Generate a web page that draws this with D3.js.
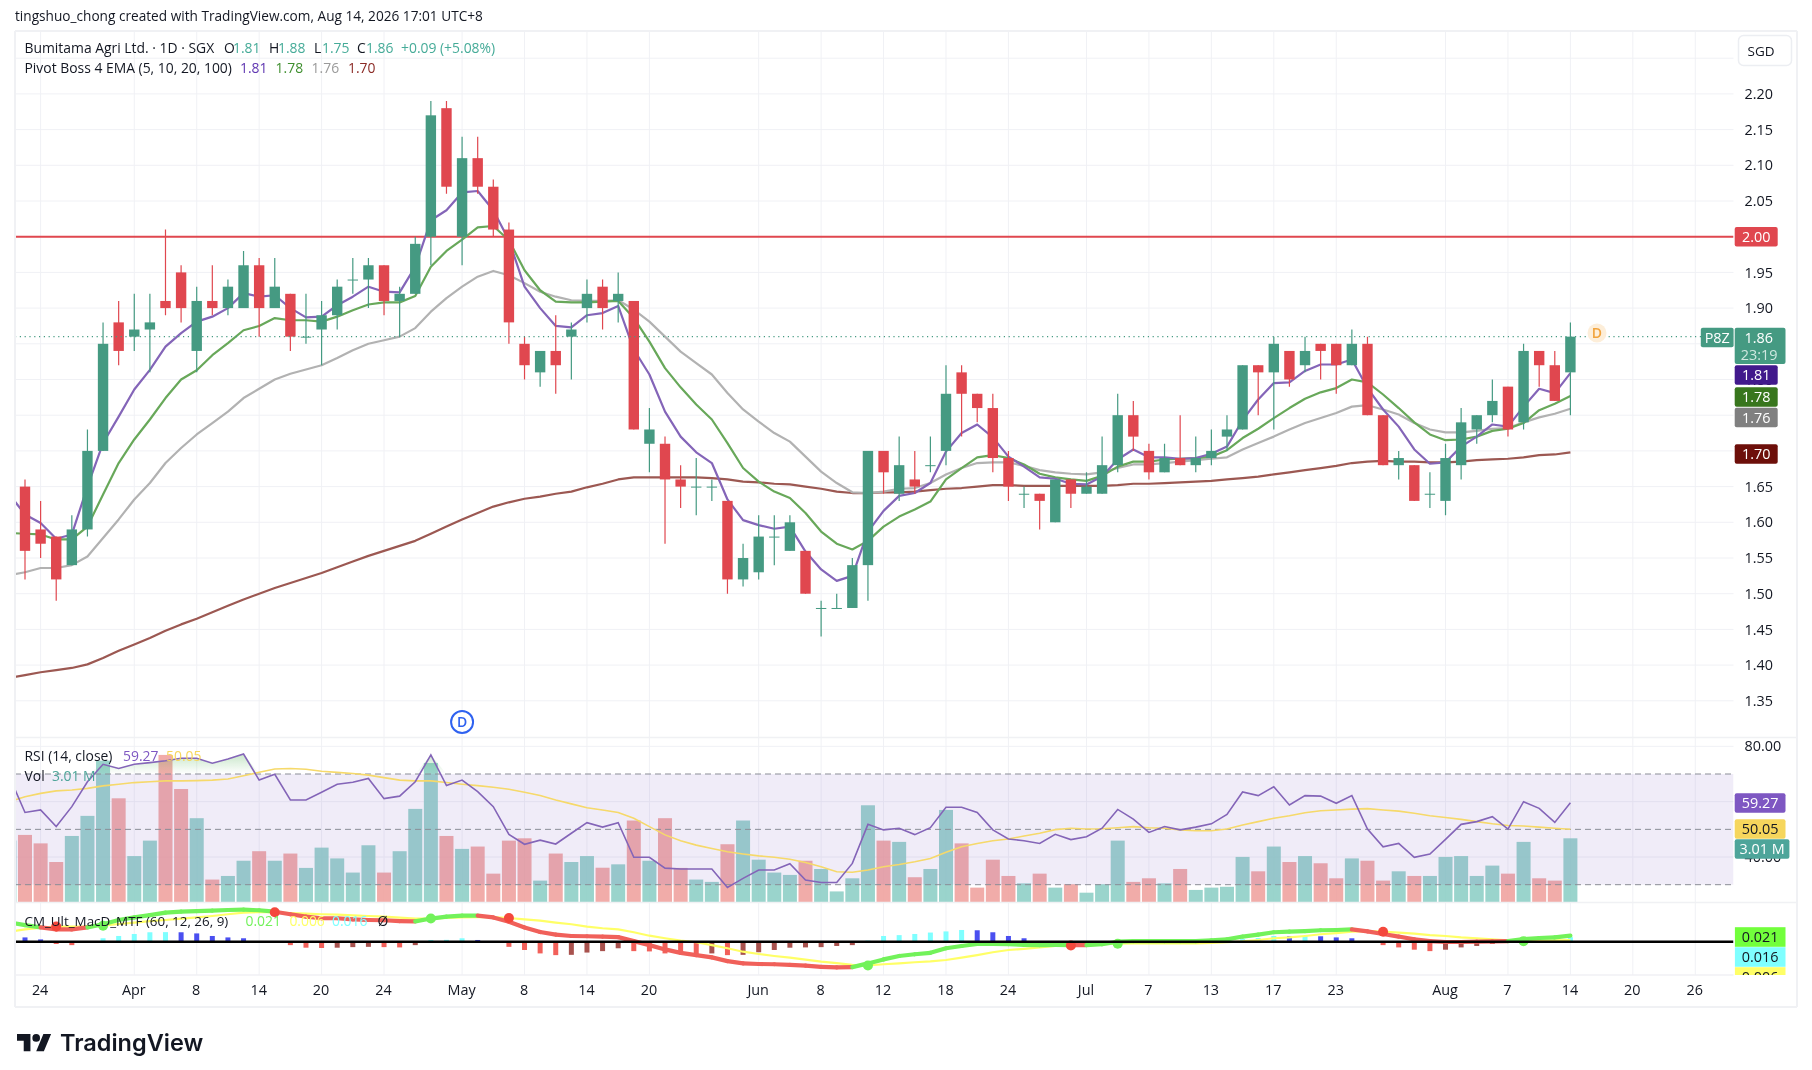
<!DOCTYPE html>
<html><head><meta charset="utf-8">
<script src="https://cdn.jsdelivr.net/npm/d3@7/dist/d3.min.js"></script>
<style>
html,body{margin:0;padding:0;background:#fff}
svg{display:block;filter:blur(.45px)}
text{font-family:"Open Sans","Noto Sans",sans-serif;fill:#131722}
</style></head><body><div id="chart"></div>
<script>
const opens=[1.62,
1.65,1.59,1.58,1.54,1.59,1.70,1.88,1.86,1.87,1.91,
1.95,1.84,1.91,1.90,1.90,1.96,1.90,1.92,1.86,1.87,
1.89,1.94,1.94,1.96,1.91,1.92,2.00,2.18,2.00,2.11,
2.07,2.01,1.85,1.81,1.84,1.86,1.90,1.93,1.91,1.91,
1.71,1.71,1.66,1.65,1.65,1.63,1.52,1.53,1.58,1.56,
1.56,1.48,1.48,1.48,1.54,1.70,1.64,1.66,1.68,1.70,
1.81,1.78,1.76,1.69,1.64,1.64,1.60,1.66,1.64,1.64,
1.68,1.75,1.70,1.67,1.69,1.68,1.69,1.72,1.73,1.82,
1.81,1.84,1.82,1.85,1.85,1.82,1.85,1.75,1.68,1.68,
1.64,1.63,1.68,1.73,1.75,1.79,1.74,1.84,1.82,1.81];
const closes=[1.63,
1.56,1.57,1.52,1.59,1.70,1.85,1.84,1.87,1.88,1.90,
1.90,1.91,1.90,1.93,1.96,1.90,1.93,1.86,1.86,1.89,
1.93,1.94,1.96,1.91,1.92,1.99,2.17,2.07,2.11,2.07,
2.01,1.88,1.82,1.84,1.82,1.87,1.92,1.90,1.92,1.73,
1.73,1.66,1.65,1.65,1.65,1.52,1.55,1.58,1.58,1.60,
1.50,1.48,1.48,1.54,1.70,1.67,1.68,1.65,1.68,1.78,
1.78,1.76,1.69,1.65,1.64,1.63,1.66,1.64,1.65,1.68,
1.75,1.72,1.67,1.69,1.68,1.69,1.70,1.73,1.82,1.81,
1.85,1.80,1.84,1.84,1.82,1.85,1.75,1.68,1.69,1.63,
1.64,1.69,1.74,1.75,1.77,1.73,1.84,1.82,1.77,1.86];
const highs=[1.64,
1.66,1.63,1.58,1.61,1.73,1.88,1.91,1.92,1.92,2.01,
1.96,1.93,1.96,1.94,1.98,1.97,1.97,1.92,1.92,1.91,
1.94,1.97,1.97,1.96,1.93,2.00,2.19,2.19,2.14,2.14,
2.08,2.02,1.86,1.84,1.89,1.88,1.94,1.94,1.95,1.91,
1.76,1.72,1.68,1.69,1.66,1.63,1.57,1.61,1.61,1.61,
1.56,1.49,1.50,1.55,1.70,1.70,1.72,1.70,1.72,1.82,
1.82,1.78,1.78,1.70,1.65,1.64,1.66,1.66,1.67,1.72,
1.78,1.77,1.71,1.71,1.75,1.72,1.73,1.75,1.82,1.82,
1.86,1.84,1.86,1.85,1.85,1.87,1.86,1.75,1.70,1.68,
1.67,1.71,1.76,1.75,1.80,1.79,1.85,1.84,1.84,1.88];
const lows=[1.60,
1.52,1.55,1.49,1.54,1.58,1.70,1.82,1.84,1.81,1.89,
1.88,1.81,1.89,1.89,1.90,1.86,1.90,1.84,1.85,1.82,
1.87,1.92,1.90,1.89,1.86,1.92,1.96,2.06,1.96,2.06,
2.00,1.85,1.80,1.79,1.78,1.80,1.88,1.87,1.88,1.73,
1.67,1.57,1.62,1.61,1.63,1.50,1.51,1.52,1.54,1.56,
1.50,1.44,1.48,1.48,1.49,1.64,1.63,1.64,1.67,1.68,
1.72,1.74,1.67,1.63,1.62,1.59,1.60,1.62,1.64,1.64,
1.67,1.70,1.66,1.67,1.68,1.67,1.68,1.70,1.73,1.75,
1.73,1.79,1.81,1.80,1.78,1.82,1.75,1.68,1.66,1.63,
1.62,1.61,1.66,1.71,1.74,1.72,1.73,1.79,1.77,1.75];
const ema5=[1.639,
1.611,1.599,1.577,1.583,1.650,1.711,1.748,1.786,1.8135,1.846,
1.865,1.881,1.888,1.900,1.921,1.916,1.918,1.900,1.887,1.888,
1.904,1.916,1.930,1.923,1.922,1.958,2.023,2.037,2.062,2.064,
2.037,1.995,1.930,1.900,1.875,1.873,1.890,1.893,1.903,1.842,
1.807,1.755,1.720,1.698,1.683,1.632,1.603,1.596,1.591,1.594,
1.559,1.534,1.518,1.525,1.587,1.616,1.637,1.641,1.655,1.699,
1.725,1.737,1.719,1.692,1.678,1.663,1.661,1.654,1.653,1.664,
1.688,1.702,1.691,1.691,1.689,1.690,1.696,1.706,1.743,1.772,
1.795,1.796,1.812,1.821,1.821,1.828,1.788,1.758,1.734,1.702,
1.682,1.684,1.706,1.720,1.737,1.734,1.762,1.787,1.781,1.809];
const ema10=[1.585,
1.584,1.583,1.576,1.576,1.594,1.639,1.683,1.716,1.744,1.774,
1.800,1.813,1.834,1.851,1.869,1.875,1.886,1.883,1.883,1.881,
1.888,1.897,1.905,1.908,1.908,1.917,1.958,1.980,1.996,2.013,
2.015,1.995,1.953,1.925,1.909,1.908,1.908,1.909,1.910,1.886,
1.853,1.816,1.789,1.765,1.744,1.711,1.676,1.657,1.643,1.634,
1.613,1.587,1.570,1.562,1.574,1.594,1.608,1.618,1.629,1.660,
1.676,1.691,1.694,1.690,1.681,1.668,1.663,1.660,1.658,1.665,
1.678,1.685,1.685,1.688,1.689,1.690,1.692,1.701,1.718,1.731,
1.746,1.760,1.773,1.782,1.788,1.800,1.796,1.779,1.760,1.740,
1.723,1.715,1.716,1.720,1.728,1.731,1.739,1.757,1.766,1.777];
const ema20=[1.526,
1.530,1.536,1.536,1.540,1.552,1.578,1.604,1.632,1.655,1.683,
1.704,1.723,1.739,1.755,1.774,1.787,1.800,1.808,1.814,1.820,
1.830,1.841,1.850,1.855,1.860,1.872,1.895,1.914,1.930,1.944,
1.952,1.946,1.935,1.923,1.916,1.911,1.910,1.910,1.911,1.898,
1.881,1.860,1.839,1.823,1.807,1.781,1.758,1.741,1.725,1.713,
1.692,1.671,1.655,1.642,1.641,1.643,1.647,1.648,1.655,1.667,
1.676,1.683,1.684,1.684,1.679,1.673,1.670,1.668,1.667,1.670,
1.676,1.681,1.681,1.683,1.685,1.687,1.689,1.691,1.702,1.711,
1.720,1.730,1.739,1.746,1.753,1.762,1.764,1.758,1.751,1.739,
1.730,1.726,1.726,1.728,1.731,1.732,1.740,1.747,1.752,1.759];
const ema100=[1.382,
1.386,1.390,1.393,1.396,1.401,1.410,1.420,1.429,1.438,1.448,
1.457,1.465,1.474,1.483,1.492,1.500,1.508,1.515,1.522,1.529,
1.537,1.545,1.553,1.560,1.567,1.574,1.584,1.594,1.604,1.613,
1.622,1.628,1.633,1.636,1.640,1.643,1.649,1.654,1.660,1.663,
1.663,1.663,1.663,1.663,1.662,1.660,1.657,1.656,1.654,1.653,
1.650,1.647,1.643,1.641,1.641,1.642,1.642,1.643,1.645,1.647,
1.648,1.650,1.652,1.652,1.651,1.651,1.651,1.651,1.651,1.651,
1.652,1.654,1.654,1.655,1.656,1.657,1.658,1.660,1.662,1.664,
1.667,1.670,1.673,1.676,1.679,1.683,1.685,1.686,1.685,1.685,
1.684,1.684,1.685,1.687,1.688,1.689,1.691,1.694,1.695,1.698];
const rsi=[69,
56.1,57,51,58.2,67.2,73.5,72,73.5,74.1,74.8,
75.7,75.7,73.9,75.4,77.2,67.8,69.9,60.6,60.6,63.4,
66.3,67,68.4,61.1,62,67.2,76.9,65.8,67.8,63.6,
58.2,48.2,44.6,46.1,44.7,48.6,52.4,50.8,52.4,39.9,
39.9,36,35.7,35.7,35.7,29,32.3,35.3,35.3,37.6,
31.7,30.8,30.8,37.7,51.8,49.8,50.4,48.1,50.6,58,
58,56.1,49.8,46.5,45.9,44.9,48.2,46.3,47.3,50.4,
57.2,53.7,48.9,51,49.8,50.8,52,55.4,63.5,62.2,
65.4,58.8,62.2,62,59.4,62.2,50.1,43.7,44.9,39.9,
41.1,46.4,51.8,52.8,54.6,50.1,60,57.6,52.5,59.6];
const rsiMA=[60,
61.8,63,63.9,64.2,64.8,65.7,66.3,66.9,67.2,67.5,
67.5,67.6,67.8,68.2,69.4,70.6,71.8,72,71.7,71,
70.6,70.2,69.6,68.7,67.8,67.5,67.5,66.9,66.3,65.8,
65.2,64.5,63.4,62.2,60.6,59.2,57.8,57,56.1,54,
51,48,45.9,44.3,43.1,41.9,41.1,40.4,39.9,39.2,
38,36.5,34.7,34.5,35.3,36.5,37.3,38.3,39.5,41.7,
43.7,44.9,45.9,46.5,47.6,48.6,49.9,50.4,50.1,50.2,
50.6,51,50.6,50.4,49.8,49.5,49.5,50.1,51.6,52.8,
54,54.9,56,56.7,57,57.3,57.5,57,56.6,55.8,
54.9,54.3,53.6,52.8,52,51.4,51.2,50.8,50.4,50.05];
const volumes=[2.9,
3.17,2.77,1.89,3.12,4.07,6.68,4.9,2.17,2.9,6.95,
5.34,3.96,1.06,1.23,1.95,2.4,1.95,2.29,1.61,2.57,
2.06,1.39,2.68,1.39,2.4,4.4,6.57,3.12,2.51,2.62,
1.34,2.9,3.01,1.01,2.29,1.89,2.17,1.62,1.78,3.85,
1.95,3.96,1.61,1.06,0.95,2.73,3.85,2.0,1.39,1.28,
1.95,1.56,0.5,1.12,4.57,2.9,2.84,1.17,1.56,4.35,
2.77,0.68,2.0,1.23,0.88,1.34,0.68,0.84,0.44,0.84,
2.9,0.95,1.12,0.88,1.56,0.57,0.68,0.72,2.13,1.45,
2.62,1.89,2.17,1.83,1.12,2.06,1.95,1.01,1.45,1.23,
1.23,2.13,2.17,1.23,1.72,1.34,2.84,1.12,1.01,3.01];
const macd=[.067,
.058,.050,.043,.043,.050,.061,.076,.085,.093,.102,
.105,.107,.109,.111,.112,.110,.105,.096,.088,.082,
.082,.078,.076,.075,.072,.071,.081,.088,.091,.091,
.085,.070,.050,.034,.025,.020,.019,.018,.016,.002,
-.012,-.027,-.039,-.047,-.055,-.068,-.076,-.078,-.079,-.081,
-.084,-.088,-.090,-.089,-.076,-.062,-.050,-.044,-.039,-.023,
-.015,-.008,-.008,-.009,-.011,-.012,-.011,-.012,-.012,-.009,
0,.002,.002,.002,.002,.002,.005,.008,.018,.025,
.033,.035,.037,.040,.041,.043,.036,.027,.018,.008,
.002,-.001,-.001,0,.001,.002,.009,.013,.015,.021];
const signal=[.035,
.043,.049,.053,.053,.053,.056,.062,.067,.072,.076,
.081,.085,.090,.096,.102,.104,.103,.100,.098,.096,
.095,.092,.090,.088,.084,.081,.081,.083,.085,.086,
.086,.083,.078,.074,.067,.061,.053,.047,.043,.033,
.021,.012,.004,-.002,-.012,-.023,-.035,-.043,-.050,-.056,
-.063,-.070,-.075,-.081,-.083,-.079,-.076,-.072,-.069,-.064,
-.056,-.047,-.037,-.029,-.025,-.020,-.015,-.013,-.011,-.009,
-.007,-.006,-.006,-.006,-.006,-.006,-.004,-.002,.001,.006,
.012,.015,.020,.026,.030,.035,.037,.035,.032,.028,
.023,.020,.015,.012,.008,.005,.002,.004,.005,.006];
const hist=[.020,
.015,.008,-.008,-.012,0,.012,.020,.027,.033,.0335,
.033,.029,.020,.015,.012,0,0,-.012,-.021,-.022,
-.021,-.019,-.018,-.019,-.020,-.012,.006,.0065,.012,.006,
0,-.018,-.029,-.041,-.047,-.046,-.038,-.033,-.023,-.033,
-.034,-.041,-.043,-.047,-.041,-.047,-.046,-.037,-.029,-.021,
-.020,-.019,-.015,-.012,.004,.020,.023,.027,.032,.036,
.041,.040,.033,.020,.012,0,0,0,0,0,
0,0,.006,.005,.004,0,0,0,.009,.013,
.020,.019,.020,.019,.015,.012,0,-.012,-.020,-.028,
-.033,-.028,-.020,-.015,-.008,0,0,.006,.0055,.016];
const crossDown=[3,17,32,68,88];
const crossUp=[6,27,55,71,97];
const priceTicks=[2.25,2.20,2.15,2.10,2.05,2.00,1.95,1.90,1.85,1.80,1.75,1.70,1.65,1.60,1.55,1.50,1.45,1.40,1.35];
const timeBars=[2,8,12,16,20,24,29,33,37,41,48,52,56,60,64,69,73,77,81,85,92,96,100,104,108];
const timeLabels=["24","Apr","8","14","20","24","May","8","14","20","Jun","8","12","18","24","Jul","7","13","17","23","Aug","7","14","20","26"];
const rsiLevels=[70,50,30];
const rsiGrid=[80,60,40];
const resistance=2.00, lastPrice=1.86;

const W=1812,H=1070, L=15,R=1733.5, T=31;
const mainBottom=737, rsiTop=741, rsiBottom=902, macdBottom=975, axisBottom=1007, outerR=1797;
const x=d3.scaleLinear().domain([1,100]).range([25,1570.4]);
const y=d3.scaleLinear().domain([2,1.45]).range([236.7,629.4]);
const yR=d3.scaleLinear().domain([70,30]).range([774,884.7]);
const yV=d3.scaleLinear().domain([0,3.01]).range([902,838.3]);
const yM=d3.scaleLinear().domain([0,.021]).range([941.7,935.7]);
const bars=d3.range(opens.length);
const up=i=>closes[i]>=opens[i];
const GREEN="#459a82",RED="#e0474f";

const svg=d3.select("#chart").append("svg").attr("width",W).attr("height",H);
const defs=svg.append("defs");
const clip=(id,y0,y1)=>defs.append("clipPath").attr("id",id).append("rect").attr("x",L).attr("y",y0).attr("width",R-L).attr("height",y1-y0);
clip("cMain",T,mainBottom);clip("cRsi",rsiTop,rsiBottom);clip("cMacd",rsiBottom,macdBottom);
const g1=defs.append("linearGradient").attr("id","ob").attr("x1",0).attr("x2",0).attr("y1",0).attr("y2",1);
g1.append("stop").attr("offset","0").attr("stop-color","#4caf50").attr("stop-opacity",.3);
g1.append("stop").attr("offset","1").attr("stop-color","#4caf50").attr("stop-opacity",0);

const grid="#f0f1f5";
// frame
const gGrid=svg.append("g");
gGrid.append("g").selectAll("line").data(timeBars).join("line")
 .attr("x1",d=>x(d)).attr("x2",d=>x(d)).attr("y1",T).attr("y2",macdBottom).attr("stroke",grid);
gGrid.append("g").selectAll("line").data(priceTicks).join("line")
 .attr("x1",L).attr("x2",R).attr("y1",d=>y(d)).attr("y2",d=>y(d)).attr("stroke",grid);
gGrid.append("g").selectAll("line").data(rsiGrid).join("line")
 .attr("x1",L).attr("x2",R).attr("y1",d=>yR(d)).attr("y2",d=>yR(d)).attr("stroke",grid);

// main pane
const pMain=svg.append("g").attr("clip-path","url(#cMain)");
pMain.append("line").attr("x1",L).attr("x2",R).attr("y1",y(resistance)).attr("y2",y(resistance)).attr("stroke",RED).attr("stroke-width",2);
const lineOf=(arr,sc)=>d3.line().x(i=>x(i)).y(i=>sc(arr[i]))(bars);
[[ema100,"#9c5852"],[ema20,"#b2b2b2"],[ema10,"#68a85a"],[ema5,"#8465b8"]].forEach(([a,c])=>{
 pMain.append("path").attr("d",lineOf(a,y)).attr("fill","none").attr("stroke",c).attr("stroke-width",2.2).attr("stroke-linejoin","round");
});
pMain.append("g").selectAll("line").data(bars).join("line")
 .attr("x1",i=>x(i)).attr("x2",i=>x(i)).attr("y1",i=>y(highs[i])).attr("y2",i=>y(lows[i]))
 .attr("stroke",i=>up(i)?GREEN:RED).attr("stroke-width",1.2);
pMain.append("g").selectAll("rect").data(bars).join("rect")
 .attr("x",i=>x(i)-5.2).attr("width",10.4)
 .attr("y",i=>y(Math.max(opens[i],closes[i])))
 .attr("height",i=>Math.max(1,Math.abs(y(opens[i])-y(closes[i]))))
 .attr("fill",i=>up(i)?GREEN:RED);
pMain.append("line").attr("x1",L).attr("x2",R).attr("y1",y(lastPrice)).attr("y2",y(lastPrice))
 .attr("stroke",GREEN).attr("stroke-width",1.2).attr("stroke-dasharray","1.2 3.6");

// dividend markers
pMain.append("circle").attr("cx",x(29)).attr("cy",722).attr("r",11).attr("fill","#fff").attr("stroke","#2f62f0").attr("stroke-width",2);
pMain.append("text").attr("x",x(29)).attr("y",727).attr("text-anchor","middle").style("fill","#2f62f0").style("font-size","14px").style("font-weight","600").text("D");
pMain.append("circle").attr("cx",1597).attr("cy",333).attr("r",9.5).attr("fill","#fdeed9");
pMain.append("text").attr("x",1597).attr("y",338).attr("text-anchor","middle").style("fill","#f2a33c").style("font-size","14px").style("font-weight","600").text("D");

// RSI pane
const pR=svg.append("g").attr("clip-path","url(#cRsi)");
pR.append("g").selectAll("rect").data(bars).join("rect")
 .attr("x",i=>x(i)-7).attr("width",14).attr("y",i=>yV(volumes[i])).attr("height",i=>902-yV(volumes[i]))
 .attr("fill",i=>up(i)?"#8fcfc6":"#efa3a0").attr("fill-opacity",.9);
pR.append("rect").attr("x",L).attr("width",R-L).attr("y",yR(70)).attr("height",yR(30)-yR(70)).attr("fill","#7e57c2").attr("fill-opacity",.115);
pR.append("path").attr("fill","url(#ob)")
 .attr("d",d3.area().x(i=>x(i)).y0(yR(70)).y1(i=>yR(Math.max(rsi[i],70)))(bars));
pR.append("g").selectAll("line").data(rsiLevels).join("line")
 .attr("x1",L).attr("x2",R).attr("y1",d=>yR(d)).attr("y2",d=>yR(d)).attr("stroke","#8a8d96").attr("stroke-width",1).attr("stroke-dasharray","6 4");
pR.append("path").attr("d",lineOf(rsiMA,yR)).attr("fill","none").attr("stroke","#f6d96a").attr("stroke-width",1.6);
pR.append("path").attr("d",lineOf(rsi,yR)).attr("fill","none").attr("stroke","#8465b8").attr("stroke-width",1.6);

// MACD pane
const pM=svg.append("g").attr("clip-path","url(#cMacd)");
const histColor=i=>{const v=hist[i],p=i?hist[i-1]:v;
 return v>=0?(v>p?"#7fffff":"#4a4ff0"):(v<p?"#f2605a":"#a8524e");};
pM.append("g").selectAll("rect").data(bars.filter(i=>hist[i]!==0)).join("rect")
 .attr("x",i=>x(i)-2.5).attr("width",5).attr("y",i=>Math.min(yM(hist[i]),yM(0))).attr("height",i=>Math.abs(yM(hist[i])-yM(0)))
 .attr("fill",histColor);
pM.append("path").attr("d",lineOf(signal,yM)).attr("fill","none").attr("stroke","#ffff66").attr("stroke-width",2.2);
pM.append("g").selectAll("line").data(bars.slice(0,-1)).join("line")
 .attr("x1",i=>x(i)).attr("x2",i=>x(i+1)).attr("y1",i=>yM(macd[i])).attr("y2",i=>yM(macd[i+1]))
 .attr("stroke",i=>macd[i+1]>=signal[i+1]?"#72f25a":"#f0605a").attr("stroke-width",4.2).attr("stroke-linecap","round");
pM.append("g").selectAll("circle").data(crossDown).join("circle").attr("cx",i=>x(i)).attr("cy",i=>yM(signal[i])).attr("r",5).attr("fill","#f4483c");
pM.append("g").selectAll("circle").data(crossUp).join("circle").attr("cx",i=>x(i)).attr("cy",i=>yM(signal[i])).attr("r",5).attr("fill","#72f25a");
pM.append("line").attr("x1",L).attr("x2",R).attr("y1",yM(0)).attr("y2",yM(0)).attr("stroke","#000").attr("stroke-width",2.5);

// borders
const border="#f0f1f4";
[[L,T,outerR,T],[L,T,L,axisBottom],[L,axisBottom,outerR,axisBottom],[outerR,T,outerR,axisBottom],[L,737.5,outerR,737.5],[L,902.5,outerR,902.5],[L,975,R,975]].forEach(([a,b,c,d],k)=>{
 svg.append("line").attr("x1",a).attr("y1",b).attr("x2",c).attr("y2",d).attr("stroke",border).attr("stroke-width",k<4?2:1.5);
});

// axes
const axisP=d3.axisRight(y).tickValues(priceTicks.filter(d=>d<2.25 && d!==2.00 && d!==1.85)).tickFormat(d3.format(".2f")).tickSize(0).tickPadding(0);
const ga=svg.append("g").attr("transform",`translate(1744.5,0)`).call(axisP);
ga.select(".domain").remove();
ga.selectAll("text").style("font-size","14.4px").style("fill","#131722");
const axisR=d3.axisRight(yR).tickValues(rsiGrid).tickFormat(d3.format(".2f")).tickSize(0).tickPadding(0);
const gar=svg.append("g").attr("transform",`translate(1744.5,0)`).call(axisR);
gar.select(".domain").remove();gar.selectAll("text").style("font-size","14.4px");
const axisT=d3.axisBottom(x).tickValues(timeBars).tickFormat((d,i)=>timeLabels[i]).tickSize(0).tickPadding(0);
const gt=svg.append("g").attr("transform",`translate(-1,984.5)`).call(axisT);
gt.select(".domain").remove();gt.selectAll("text").style("font-size","14.4px");

// price tags
function tag(x0,x1,cy,bg,fg,txt,h=19.6){
 svg.append("rect").attr("x",x0).attr("y",cy-h/2).attr("width",x1-x0).attr("height",h).attr("rx",2).attr("fill",bg);
 svg.append("text").attr("x",(x0+x1)/2).attr("y",cy+5).attr("text-anchor","middle").style("fill",fg).style("font-size","14.4px").text(txt);
}
const TX0=1734.7,TX1=1777.7,TX2=1785.5;
tag(TX0,TX1,y(2),RED,"#fff","2.00");
tag(1700.8,1733.6,337.5,GREEN,"#fff","P8Z");
svg.append("rect").attr("x",TX0).attr("y",327.7).attr("width",TX2-TX0).attr("height",36.3).attr("rx",2).attr("fill",GREEN);
svg.append("text").attr("x",TX0+24).attr("y",342.5).attr("text-anchor","middle").style("fill","#fff").style("font-size","14.4px").text("1.86");
svg.append("text").attr("x",TX0+24.5).attr("y",359.5).attr("text-anchor","middle").style("fill","#cfe8e0").style("font-size","14.4px").text("23:19");
tag(TX0,TX1,375,"#41198c","#fff","1.81");
tag(TX0,TX1,397,"#38761d","#fff","1.78");
tag(TX0,TX1,417.5,"#808080","#fff","1.76");
tag(TX0,TX1,454,"#6d0f0a","#fff","1.70");
tag(TX0,TX2,803,"#7e57c2","#fff","59.27");
tag(TX0,TX2,829,"#f6d65c","#131722","50.05");
tag(TX0,1789.4,849,"#4ea59a","#fff","3.01 M");
const cM=defs.append("clipPath").attr("id","cTag").append("rect").attr("x",TX0).attr("y",902).attr("width",60).attr("height",73);
const tg=svg.append("g").attr("clip-path","url(#cTag)");
[["#72ff3c","0.021",937],["#7fffff","0.016",957],["#ffff66","0.006",977]].forEach(([bg,t,cy])=>{
 tg.append("rect").attr("x",TX0).attr("y",cy-9.8).attr("width",TX2-TX0).attr("height",19.6).attr("fill",bg);
 tg.append("text").attr("x",(TX0+TX2)/2).attr("y",cy+5).attr("text-anchor","middle").style("font-size","14.4px").text(t);
});

// SGD
svg.append("rect").attr("x",1738.5).attr("y",35.5).attr("width",53).attr("height",30).attr("rx",5).attr("fill","#fff").attr("stroke","#eceef2").attr("stroke-width",1.5);
svg.append("text").attr("x",1761).attr("y",56).attr("text-anchor","middle").style("font-size","13.5px").text("SGD");

// legends
function txt(xp,yp,t,c="#131722",fs=13.9){
 return svg.append("text").attr("x",xp).attr("y",yp).style("fill",c).style("font-size",fs+"px").text(t);
}
txt(15,21,"tingshuo_chong created with TradingView.com, Aug 14, 2026 17:01 UTC+8","#131722",13.65);
txt(24.5,53,"Bumitama Agri Ltd. · 1D · SGX");
const TEAL="#45ab98";
txt(224,53,"O");txt(233,53,"1.81",TEAL);txt(269,53,"H");txt(278,53,"1.88",TEAL);
txt(314,53,"L");txt(322,53,"1.75",TEAL);txt(357,53,"C");txt(366,53,"1.86",TEAL);
txt(401,53,"+0.09 (+5.08%)",TEAL);
txt(24.5,73,"Pivot Boss 4 EMA (5, 10, 20, 100)");
txt(240,73,"1.81","#5e35b1");txt(275.6,73,"1.78","#3f8f2f");txt(311.6,73,"1.76","#9a9a9a");txt(348,73,"1.70","#8b2a25");
txt(24.5,761,"RSI (14, close)");txt(123,761,"59.27","#7e57c2");txt(166,761,"50.05","#f6d65c");
txt(24.5,781,"Vol");txt(52,781,"3.01 M","#4ea59a");
txt(24.5,926,"CM_Ult_MacD_MTF (60, 12, 26, 9)","#131722",13.4);txt(245.5,926,"0.021","#72f25a");txt(289.4,926,"0.006","#ffff66");txt(332,926,"0.016","#7fffff");txt(377.6,926,"Ø");

// logo
const lg=svg.append("g").attr("transform","translate(17,1030.2) scale(.96)");
lg.append("path").attr("d","M14 22H7V11H0V4h14v18zM28 22h-8l7.5-18h8L28 22z").attr("fill","#131722");
lg.append("circle").attr("cx",20).attr("cy",8).attr("r",4).attr("fill","#131722");
svg.append("text").attr("x",60).attr("y",1051).style("font-family","Inter,Roboto,sans-serif").style("font-size","23.5px").style("font-weight","600").text("TradingView");
</script></body></html>
